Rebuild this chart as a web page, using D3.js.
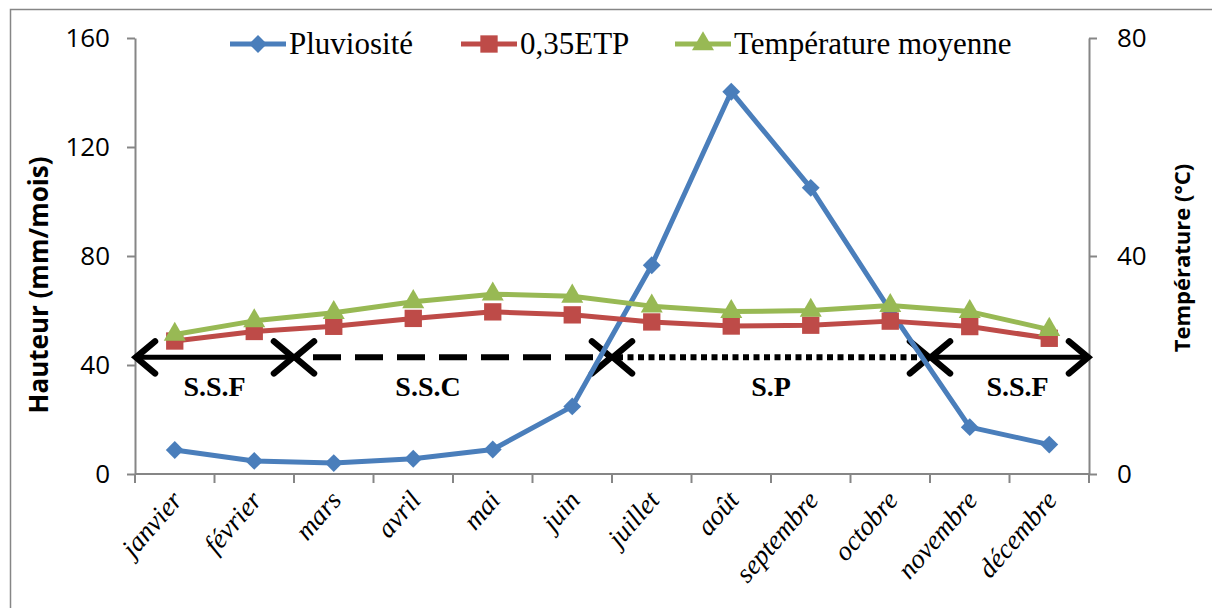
<!DOCTYPE html>
<html>
<head>
<meta charset="utf-8">
<script src="https://d3js.org/d3.v7.min.js"></script>
<style>
    body { margin: 0; background: #fff; }
    svg { display: block; }
</style>
</head>
<body>
<div id="chart"></div>
<script>
const months = ["janvier", "février", "mars", "avril", "mai", "juin", "juillet",
    "août", "septembre", "octobre", "novembre", "décembre"];

// mm/mois, axe de gauche
const pluviosite = [8.8, 4.8, 4.0, 5.6, 9.0, 24.8, 76.6, 140.3, 105.0, 60.0, 17.2, 10.8];
const etp = [48.8, 52.3, 54.2, 57.1, 59.5, 58.4, 55.8, 54.3, 54.6, 56.1, 54.1, 49.8];
// °C, axe de droite
const temperature = [25.6, 28.1, 29.6, 31.6, 33.0, 32.6, 30.8, 29.8, 30.0, 30.9, 29.8, 26.5];

const leftTicks = [0, 40, 80, 120, 160];
const rightTicks = [0, 40, 80];

// saisons : indice du mois de début et de fin (bornes des catégories)
const seasons = [
    {label: "S.S.F", from: 0, to: 2, style: "solid"},
    {label: "S.S.C", from: 2, to: 6, style: "dashed"},
    {label: "S.P", from: 6, to: 10, style: "dotted"},
    {label: "S.S.F", from: 10, to: 12, style: "solid"},
];
const seasonLevel = 42.8; // hauteur des flèches, sur l'axe de gauche

const width = 1212, height = 608;
const margin = {top: 38, right: 123, bottom: 134, left: 135};

const svg = d3.select("#chart").append("svg")
    .attr("width", width)
    .attr("height", height);

// cadre
svg.append("rect")
    .attr("x", 10.5).attr("y", 9.5)
    .attr("width", 1220).attr("height", 620)
    .attr("fill", "none")
    .attr("stroke", "#868686")
    .attr("stroke-width", 1.5);

const x = d3.scaleBand()
    .domain(months)
    .range([margin.left, width - margin.right])
    .padding(0);
const xb = d3.scaleLinear()
    .domain([0, months.length])
    .range([margin.left, width - margin.right]);
const yL = d3.scaleLinear().domain([0, 160]).range([height - margin.bottom, margin.top]);
const yR = d3.scaleLinear().domain([0, 80]).range([height - margin.bottom, margin.top]);

const axisColor = "#868686";
const sans = "'Open Sans', sans-serif";
const serif = "'Liberation Serif', 'Times New Roman', serif";

// axe gauche
const gL = svg.append("g")
    .attr("transform", `translate(${margin.left},0)`)
    .call(d3.axisLeft(yL).tickValues(leftTicks).tickSize(8).tickPadding(17).tickSizeOuter(0));
// axe droit
const gR = svg.append("g")
    .attr("transform", `translate(${width - margin.right},0)`)
    .call(d3.axisRight(yR).tickValues(rightTicks).tickSize(8).tickPadding(20).tickSizeOuter(0));

[gL, gR].forEach(g => {
    g.select(".domain").attr("stroke", axisColor).attr("stroke-width", 2);
    g.selectAll(".tick line").attr("stroke", axisColor).attr("stroke-width", 2);
    g.selectAll(".tick text")
        .attr("font-family", sans)
        .attr("font-size", 26)
        .attr("fill", "#000");
});

// axe des x : graduations aux bornes des mois
const gX = svg.append("g")
    .attr("transform", `translate(0,${yL(0)})`);
gX.append("line")
    .attr("x1", xb(0)).attr("x2", xb(months.length))
    .attr("stroke", axisColor).attr("stroke-width", 2);
gX.selectAll(".xtick")
    .data(d3.range(months.length + 1))
    .join("line")
    .attr("class", "xtick")
    .attr("x1", d => xb(d)).attr("x2", d => xb(d))
    .attr("y1", 0).attr("y2", 9)
    .attr("stroke", axisColor).attr("stroke-width", 2);
gX.selectAll(".xlabel")
    .data(months)
    .join("text")
    .attr("class", "xlabel")
    .attr("transform", d => `translate(${x(d) + x.bandwidth() / 2 + 9},${27}) rotate(-49)`)
    .attr("text-anchor", "end")
    .attr("font-family", serif)
    .attr("font-style", "italic")
    .attr("font-size", 27)
    .text(d => d);

// titres des axes
svg.append("text")
    .attr("transform", `translate(48,285) rotate(-90)`)
    .attr("text-anchor", "middle")
    .attr("font-family", sans)
    .attr("font-weight", "bold")
    .attr("font-size", 26)
    .text("Hauteur (mm/mois)");
svg.append("text")
    .attr("transform", `translate(1190,258) rotate(-90)`)
    .attr("text-anchor", "middle")
    .attr("font-family", sans)
    .attr("font-weight", "bold")
    .attr("font-size", 22)
    .text("Température (°C)");

// flèches des saisons
const arrowY = yL(seasonLevel);
const gS = svg.append("g");
function chevron(tipX, dir) {
    const len = 19, half = 16;
    return `M${tipX + dir * -len},${arrowY - half}L${tipX},${arrowY}L${tipX + dir * -len},${arrowY + half}`;
}
seasons.forEach((s, i) => {
    const x0 = xb(s.from) + 1, x1 = xb(s.to) - 1;
    const line = gS.append("line")
        .attr("x1", x0 + 4).attr("x2", x1 - 4)
        .attr("y1", arrowY).attr("y2", arrowY)
        .attr("stroke", "#000")
        .attr("stroke-width", s.style === "solid" ? 5 : 6);
    if (s.style === "dashed") line.attr("stroke-dasharray", "28,14").attr("stroke-dashoffset", -14);
    if (s.style === "dotted") line.attr("stroke-dasharray", "6,4.5");
    gS.append("path").attr("d", chevron(x0, -1));
    gS.append("path").attr("d", chevron(x1, 1));
    // l'étiquette S.S.C est un peu décalée vers la gauche dans l'original
    const shift = s.label === "S.S.C" ? -25 : (i === 3 ? 8 : 0);
    gS.append("text")
        .attr("x", (x0 + x1) / 2 + shift)
        .attr("y", arrowY + 39)
        .attr("text-anchor", "middle")
        .attr("font-family", serif)
        .attr("font-weight", "bold")
        .attr("font-size", 28)
        .text(s.label);
});
gS.selectAll("path")
    .attr("fill", "none")
    .attr("stroke", "#000")
    .attr("stroke-width", 6.5)
    .attr("stroke-linecap", "round")
    .attr("stroke-linejoin", "miter");

// séries
const series = [
    {name: "Pluviosité", values: pluviosite, y: yL, color: "#4A7EBB", symbol: d3.symbolSquare, size: 160, rotate: 45},
    {name: "0,35ETP", values: etp, y: yL, color: "#BE4B48", symbol: d3.symbolSquare, size: 300, rotate: 0},
    {name: "Température moyenne", values: temperature, y: yR, color: "#98B954", symbol: d3.symbolTriangle, size: 210, rotate: 0},
];

const gLines = svg.append("g");
series.forEach(s => {
    const line = d3.line()
        .x((d, i) => x(months[i]) + x.bandwidth() / 2)
        .y(d => s.y(d));
    const g = gLines.append("g");
    g.append("path")
        .datum(s.values)
        .attr("fill", "none")
        .attr("stroke", s.color)
        .attr("stroke-width", 5)
        .attr("stroke-linejoin", "round")
        .attr("d", line);
    g.selectAll("path.mark")
        .data(s.values)
        .join("path")
        .attr("class", "mark")
        .attr("transform", (d, i) => `translate(${x(months[i]) + x.bandwidth() / 2},${s.y(d)}) rotate(${s.rotate})`)
        .attr("fill", s.color)
        .attr("d", d3.symbol().type(s.symbol).size(s.size));
});

// légende
const legendX = [230, 461, 675];
const legend = svg.append("g");
series.forEach((s, i) => {
    const g = legend.append("g").attr("transform", `translate(${legendX[i]},44)`);
    g.append("line")
        .attr("x1", 0).attr("x2", 56)
        .attr("stroke", s.color)
        .attr("stroke-width", 5);
    g.append("path")
        .attr("transform", `translate(28,0) rotate(${s.rotate})`)
        .attr("fill", s.color)
        .attr("d", d3.symbol().type(s.symbol).size(s.size));
    g.append("text")
        .attr("x", 59)
        .attr("y", 10)
        .attr("font-family", serif)
        .attr("font-size", 31)
        .text(s.name);
});
</script>
</body>
</html>
